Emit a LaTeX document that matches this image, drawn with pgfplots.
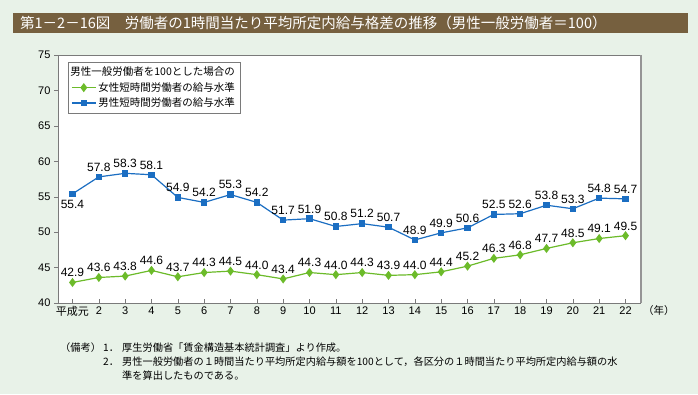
\documentclass[border=0pt]{standalone}
\usepackage{pgfplots}
\pgfplotsset{compat=1.18}
\usepackage{fontspec}
\setmainfont{Liberation Sans}
\newfontfamily\cjk{Noto Sans CJK JP}
\definecolor{bgc}{HTML}{E8F2E8}
\definecolor{titlec}{HTML}{76603F}
\definecolor{fem}{HTML}{6CBB2A}
\definecolor{mal}{HTML}{1B6EC2}
\definecolor{framec}{HTML}{7A7A7A}

\pgfplotstableread{
x y
1 42.9
2 43.6
3 43.8
4 44.6
5 43.7
6 44.3
7 44.5
8 44.0
9 43.4
10 44.3
11 44.0
12 44.3
13 43.9
14 44.0
15 44.4
16 45.2
17 46.3
18 46.8
19 47.7
20 48.5
21 49.1
22 49.5
}\female

\pgfplotstableread{
x y
1 55.4
2 57.8
3 58.3
4 58.1
5 54.9
6 54.2
7 55.3
8 54.2
9 51.7
10 51.9
11 50.8
12 51.2
13 50.7
14 48.9
15 49.9
16 50.6
17 52.5
18 52.6
19 53.8
20 53.3
21 54.8
22 54.7
}\male

\begin{document}
\begin{tikzpicture}[x=1pt,y=1pt]
\fill[bgc] (0,0) rectangle (698,394);
\fill[titlec] (13,361) rectangle (688,381);
\node[anchor=west,text=white,font=\cjk\fontsize{14.5}{16}\selectfont,inner sep=0pt] at (20,371) {第1－2－16図\quad 労働者の1時間当たり平均所定内給与格差の推移（男性一般労働者＝100）};

\begin{axis}[
  at={(58pt,91pt)}, anchor=south west,
  scale only axis, width=582pt, height=248pt,
  xmin=0.45, xmax=22.55, ymin=40, ymax=75,
  ytick={40,45,...,75},
  xtick={1,...,22},
  xticklabels={{\cjk 平成元},2,3,4,5,6,7,8,9,10,11,12,13,14,15,16,17,18,19,20,21,22},
  axis line style={framec},
  axis background/.style={fill=white},
  xtick pos=bottom, ytick pos=left,
  xtick align=inside, ytick align=outside,
  major tick length=4pt,
  tick style={framec},
  tick label style={font=\fontsize{11}{13}\selectfont},
  /pgf/number format/assume math mode=true,
  legend style={at={(0.0172,0.972)}, anchor=north west, draw=framec, fill=white,
     font=\cjk\fontsize{10.5}{12}\selectfont, row sep=1pt, inner sep=3pt},
  legend cell align=left,
  legend image code/.code={\draw[#1,mark=none] (0pt,0pt) -- (24pt,0pt); \draw[#1,only marks] plot coordinates {(12pt,0pt)};},
  nodes near coords style={font=\fontsize{12}{14}\selectfont, text=black},
]
\addlegendimage{legend image code/.code={}}
\addlegendentry{\hspace*{-28pt}男性一般労働者を100とした場合の}
\addplot[fem, line width=1.2pt, mark=diamond*, mark size=3.6pt, mark options={solid, fill=fem}] table[x=x,y=y] {\female};
\addlegendentry{女性短時間労働者の給与水準}
\addplot[mal, line width=1.2pt, mark=square*, mark size=2.6pt, mark options={solid, fill=mal}] table[x=x,y=y] {\male};
\addlegendentry{男性短時間労働者の給与水準}

\addplot[forget plot, only marks, mark=none, point meta=y,
  nodes near coords={\pgfmathprintnumber[fixed,fixed zerofill,precision=1]{\pgfplotspointmeta}},
  every node near coord/.append style={anchor=south, yshift=2pt}]
  table[x=x,y=y] {\female};
\addplot[forget plot, only marks, mark=none, point meta=y,
  restrict x to domain=1.5:23,
  nodes near coords={\pgfmathprintnumber[fixed,fixed zerofill,precision=1]{\pgfplotspointmeta}},
  every node near coord/.append style={anchor=south, yshift=2pt}]
  table[x=x,y=y] {\male};
\addplot[forget plot, only marks, mark=none, point meta=y,
  nodes near coords={\pgfmathprintnumber[fixed,fixed zerofill,precision=1]{\pgfplotspointmeta}},
  every node near coord/.append style={anchor=north, yshift=-3pt}]
  coordinates {(1,55.4)};
\end{axis}
\draw[framec!80, line width=1.5pt] (640.75,91) -- (640.75,339);
\node[anchor=west,font=\cjk\fontsize{10.5}{12}\selectfont,inner sep=0pt] at (643,83) {（年）};

\begin{scope}[every node/.style={anchor=west,font=\cjk\fontsize{10.2}{12}\selectfont,inner sep=0pt}]
\node at (60,46) {（備考）};
\node at (103,46) {1．};
\node at (103,32) {2．};
\node at (122,46) {厚生労働省「賃金構造基本統計調査」より作成。};
\node at (122,32) {男性一般労働者の１時間当たり平均所定内給与額を100として，各区分の１時間当たり平均所定内給与額の水};
\node at (122,18) {準を算出したものである。};
\end{scope}
\end{tikzpicture}
\end{document}
